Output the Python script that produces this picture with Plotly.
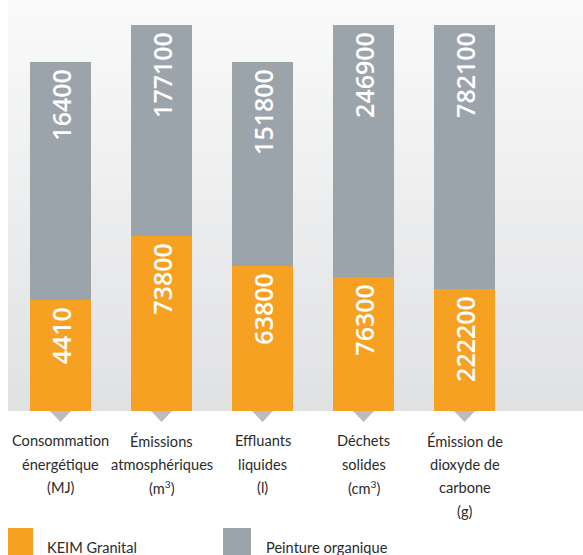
import plotly.graph_objects as go

categories = [
    "Consommation<br>énergétique<br>(MJ)",
    "Émissions<br>atmosphériques<br>(m<sup>3</sup>)",
    "Effluants<br>liquides<br>(l)",
    "Déchets<br>solides<br>(cm<sup>3</sup>)",
    "Émission de<br>dioxyde de<br>carbone<br>(g)",
]
keim_values = [4410, 73800, 63800, 76300, 222200]
organic_values = [16400, 177100, 151800, 246900, 782100]
# displayed segment heights (chart units, as drawn in the reference)
keim_heights = [111, 175, 145, 134, 122]
organic_heights = [238, 211, 204, 252, 264]
series_names = ["KEIM Granital", "Peinture organique"]

ORANGE = "#f7a123"
GREY = "#9ba4aa"
TRI = "#bbbcbf"
TEXT = "#2b2b2b"
W, H = 583, 555
ML, MB = 8, 144
Y_MAX = 411

fig = go.Figure()

num_font = dict(family="Open Sans, Lato, sans-serif", size=25, color="white", weight=600)
PAD = "\u2009"

fig.add_trace(go.Bar(
    x=categories, y=keim_heights, name=series_names[0],
    marker=dict(color=ORANGE, line=dict(width=0)),
    text=[str(v) + PAD for v in keim_values], textposition="inside",
    insidetextanchor="end", textangle=-90, textfont=num_font,
    width=0.604, hoverinfo="skip",
))
fig.add_trace(go.Bar(
    x=categories, y=organic_heights, name=series_names[1],
    marker=dict(color=GREY, line=dict(width=0)),
    text=[str(v) + PAD for v in organic_values], textposition="inside",
    insidetextanchor="end", textangle=-90, textfont=num_font,
    width=0.604, hoverinfo="skip",
))

# gradient background of plot area
n = 60
top = (250, 250, 250)
bot = (224, 225, 227)
shapes = []
for i in range(n):
    t = i / (n - 1)
    c = tuple(round(top[k] + (bot[k] - top[k]) * t) for k in range(3))
    shapes.append(dict(
        type="rect", xref="x domain", yref="y domain",
        x0=0, x1=1, y0=1 - (i + 1) / n, y1=1 - i / n + 0.002,
        fillcolor="rgb(%d,%d,%d)" % c, line=dict(width=0), layer="below",
    ))

# small pointer triangles under each bar (anchored at each category)
for cat in categories:
    shapes.append(dict(
        type="path", xref="x", yref="paper", xsizemode="pixel", ysizemode="pixel",
        xanchor=cat, yanchor=0, path="M-10.5,0 L10.5,0 L0,-11 Z",
        fillcolor=TRI, line=dict(width=0), layer="above",
    ))

def pyp(px):  # page pixel y -> paper y
    return (Y_MAX - px) / Y_MAX

def pxp(px):  # page pixel x -> paper x
    return (px - ML) / (W - ML)

label_font = dict(family="Lato, Open Sans, sans-serif", size=14.6, color=TEXT)
annotations = []
# category labels, one line per annotation for reference line spacing
for cat in categories:
    for j, line in enumerate(cat.split("<br>")):
        annotations.append(dict(
            text=line, x=cat, xref="x", y=pyp(441 + 23.4 * j), yref="paper",
            xanchor="center", yanchor="middle", showarrow=False, font=label_font,
        ))

# manual legend
for (x0, x1, col), name, tx in zip([(8, 33, ORANGE), (223, 251, GREY)], series_names, [45, 264]):
    shapes.append(dict(type="rect", xref="paper", yref="paper",
                       x0=pxp(x0), x1=pxp(x1), y0=pyp(528), y1=pyp(562),
                       fillcolor=col, line=dict(width=0)))
    annotations.append(dict(text=name, x=pxp(tx), y=pyp(547), xref="paper", yref="paper",
                            xanchor="left", yanchor="middle", showarrow=False, font=label_font))

fig.update_layout(
    width=W, height=H,
    margin=dict(l=ML, r=0, t=0, b=MB, pad=0),
    barmode="stack",
    showlegend=False,
    paper_bgcolor="white",
    plot_bgcolor="rgba(0,0,0,0)",
    shapes=shapes,
    annotations=annotations,
    xaxis=dict(
        type="category", range=[-0.52, 5.173], showgrid=False, zeroline=False,
        showline=False, ticks="", showticklabels=False, automargin=False,
        fixedrange=True,
    ),
    yaxis=dict(range=[0, Y_MAX], showgrid=False, zeroline=False, showline=False,
               showticklabels=False, ticks="", fixedrange=True, automargin=False),
)

fig.write_html("out.html", config={"displayModeBar": False},
               post_script="document.body.style.margin='0';document.body.style.overflow='hidden';")
